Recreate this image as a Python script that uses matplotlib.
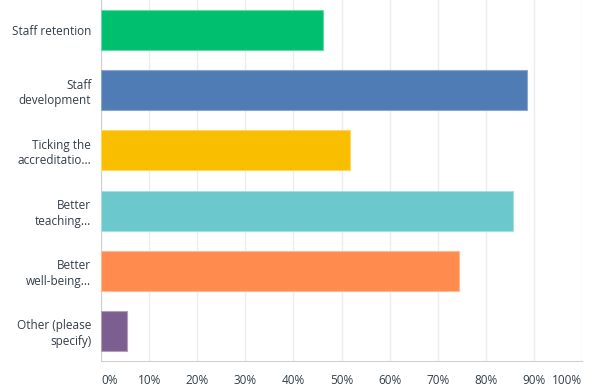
import matplotlib
matplotlib.use("Agg")
import matplotlib.pyplot as plt

categories = ["Staff retention", "Staff\ndevelopment", "Ticking the\naccreditatio...",
              "Better\nteaching...", "Better\nwell-being...", "Other (please\nspecify)"]
values = [46.2, 88.5, 51.8, 85.7, 74.4, 5.4]
colors = ["#00bf6f", "#507cb6", "#f9be00", "#6bc8cd", "#ff8b4f", "#7d5e90"]
edges = ["#66d9a8", "#8aa7d0", "#fbd766", "#a6dee1", "#ffb893", "#b09ebc"]
xticks = list(range(0, 101, 10))
xtick_labels = [f"{t}%" for t in xticks]

plt.rcParams['font.family'] = ['Open Sans', 'DejaVu Sans']
text_color = "#333e48"

fig = plt.figure(figsize=(6, 3.89), dpi=100)
ax = fig.add_axes([101 / 600, 28 / 389, 481 / 600, 361 / 389])

y = list(range(len(categories)))
ax.barh(y, values, height=0.667, color=colors, edgecolor=edges, linewidth=0.8, zorder=3)
ax.set_ylim(len(categories) - 0.5, -0.5)
ax.set_xlim(0, 100)

ax.set_xticks(xticks)
labels = ax.set_xticklabels(xtick_labels, fontsize=8.5, color=text_color)
# first and last labels stay inside the plot width, as in the original
labels[0].set_ha("left")
labels[-1].set_ha("right")
ax.set_yticks(y)
ax.set_yticklabels(categories, fontsize=8.5, color=text_color, ha="right", linespacing=1.25)
ax.tick_params(axis="both", length=0)
ax.tick_params(axis="x", pad=9)
ax.tick_params(axis="y", pad=7)

ax.grid(axis="x", color="#ececec", linewidth=1, zorder=0)
for s in ["top", "right"]:
    ax.spines[s].set_visible(False)
ax.spines["left"].set_color("#d0d0d0")
ax.spines["bottom"].set_color("#d0d0d0")

fig.savefig("out.png", dpi=100)
